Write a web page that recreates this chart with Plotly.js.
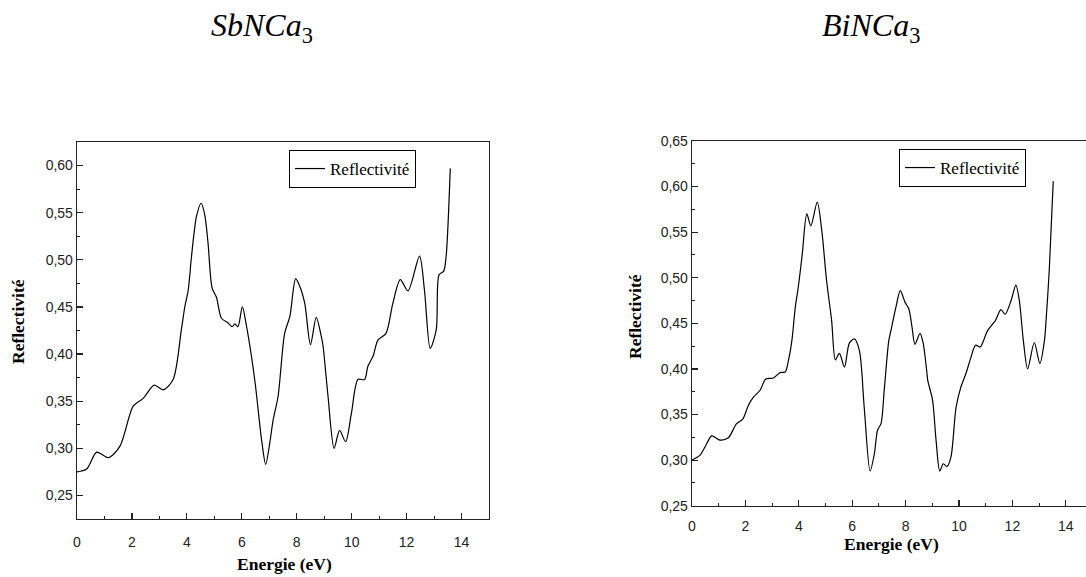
<!DOCTYPE html>
<html>
<head>
<meta charset="utf-8">
<script src="https://cdn.plot.ly/plotly-3.0.1.min.js"></script>
<style>html,body{margin:0;padding:0;background:#fff;}#chart{width:1086px;height:577px;}</style>
</head>
<body>
<div id="chart"></div>
<script>
// SbNCa3 reflectivity
const sbEnergy = [0, 0.35, 0.72, 1.14, 1.56, 2.05, 2.41, 2.81, 3.14, 3.5, 3.8, 3.93, 4.05, 4.17, 4.35, 4.52, 4.65, 4.77, 4.92, 5.08, 5.26, 5.5, 5.65, 5.75, 5.86, 6.02, 6.17, 6.47, 6.72, 6.87, 7.02, 7.14, 7.32, 7.56, 7.75, 7.96, 8.11, 8.29, 8.5, 8.71, 8.9, 8.96, 9.14, 9.36, 9.56, 9.78, 9.99, 10.23, 10.47, 10.59, 10.78, 10.96, 11.25, 11.5, 11.77, 12.05, 12.47, 12.65, 12.86, 13.08, 13.18, 13.35, 13.44, 13.59];
const sbRefl = [0.275, 0.278, 0.296, 0.290, 0.302, 0.345, 0.353, 0.367, 0.362, 0.373, 0.426, 0.451, 0.468, 0.504, 0.546, 0.560, 0.548, 0.518, 0.470, 0.460, 0.438, 0.433, 0.429, 0.432, 0.429, 0.450, 0.430, 0.373, 0.309, 0.283, 0.306, 0.330, 0.355, 0.422, 0.440, 0.480, 0.472, 0.454, 0.410, 0.439, 0.418, 0.408, 0.355, 0.300, 0.319, 0.307, 0.337, 0.373, 0.373, 0.387, 0.398, 0.415, 0.422, 0.454, 0.479, 0.467, 0.504, 0.468, 0.406, 0.426, 0.484, 0.488, 0.504, 0.597];

// BiNCa3 reflectivity
const biEnergy = [0, 0.30, 0.55, 0.74, 1.05, 1.36, 1.67, 1.9, 2.11, 2.3, 2.55, 2.76, 3.05, 3.3, 3.49, 3.61, 3.74, 3.87, 3.98, 4.13, 4.3, 4.45, 4.69, 4.86, 5.04, 5.23, 5.37, 5.52, 5.71, 5.89, 6.08, 6.27, 6.45, 6.67, 6.83, 6.95, 7.08, 7.2, 7.37, 7.45, 7.64, 7.8, 7.98, 8.12, 8.24, 8.35, 8.54, 8.66, 8.79, 8.83, 9.01, 9.14, 9.28, 9.41, 9.55, 9.7, 9.89, 10.07, 10.26, 10.45, 10.62, 10.79, 11.07, 11.36, 11.57, 11.73, 11.95, 12.13, 12.26, 12.41, 12.57, 12.82, 13.03, 13.2, 13.26, 13.38, 13.53];
const biRefl = [0.300, 0.3055, 0.318, 0.3266, 0.322, 0.3245, 0.340, 0.345, 0.360, 0.369, 0.3766, 0.389, 0.390, 0.396, 0.3966, 0.409, 0.431, 0.468, 0.4896, 0.526, 0.570, 0.557, 0.583, 0.552, 0.497, 0.453, 0.410, 0.417, 0.402, 0.428, 0.433, 0.420, 0.358, 0.288, 0.307, 0.333, 0.340, 0.377, 0.431, 0.442, 0.468, 0.486, 0.473, 0.466, 0.446, 0.427, 0.439, 0.428, 0.398, 0.3875, 0.3656, 0.322, 0.288, 0.296, 0.293, 0.3036, 0.358, 0.380, 0.395, 0.413, 0.426, 0.424, 0.442, 0.453, 0.465, 0.460, 0.475, 0.492, 0.475, 0.431, 0.400, 0.429, 0.406, 0.431, 0.453, 0.508, 0.606];

const seriesName = "Reflectivité";
const xTitle = "Energie (eV)";
const yTitle = "Reflectivité";
const titleLeft = "<i>SbNCa</i><sub>3</sub>";
const titleRight = "<i>BiNCa</i><sub>3</sub>";

const W = 1086, H = 577;
const tickFont = {family: "Liberation Sans, Arial, sans-serif", size: 14, color: "#222"};
const axisTitleFont = {family: "Liberation Serif, Times New Roman, serif", size: 17.5, color: "#000"};
const titleFont = {family: "Liberation Serif, Times New Roman, serif", size: 32, color: "#000"};

function xax(domain, range, anchor, standoff) {
  return {domain: domain, range: range, anchor: anchor, showline: true, mirror: true, linecolor: "#222", linewidth: 1.3,
    ticks: "inside", ticklen: 6, tickwidth: 1.2, tickcolor: "#222", tick0: 0, dtick: 2, ticklabelstandoff: standoff,
    minor: {ticks: "inside", ticklen: 3, tickwidth: 1, tickcolor: "#222", dtick: 1},
    showgrid: false, zeroline: false, tickfont: tickFont, fixedrange: true};
}
function yax(domain, range, mirror, anchor) {
  return {domain: domain, range: range, anchor: anchor, showline: true, mirror: mirror, linecolor: "#222", linewidth: 1.3,
    ticks: "inside", ticklen: 6, tickwidth: 1.2, tickcolor: "#222", tick0: 0.25, dtick: 0.05, tickformat: ".2f",
    minor: {ticks: "inside", ticklen: 3, tickwidth: 1, tickcolor: "#222", dtick: 0.025},
    showgrid: false, zeroline: false, tickfont: tickFont, fixedrange: true};
}

const traces = [
  {x: sbEnergy, y: sbRefl, type: "scatter", mode: "lines", name: seriesName,
   line: {color: "#000", width: 1.2, shape: "spline", smoothing: 0.8}, xaxis: "x", yaxis: "y", legend: "legend"},
  {x: biEnergy, y: biRefl, type: "scatter", mode: "lines", name: seriesName,
   line: {color: "#000", width: 1.2, shape: "spline", smoothing: 0.8}, xaxis: "x2", yaxis: "y2", legend: "legend2"}
];

const legendFont = {family: "Liberation Serif, Times New Roman, serif", size: 17, color: "#000"};
const layout = {
  width: W, height: H, autosize: false,
  margin: {l: 0, r: 0, t: 0, b: 0},
  paper_bgcolor: "#fff", plot_bgcolor: "#fff",
  separators: ", ",
  xaxis: xax([77/W, 489/W], [0, 15], "y", 10),
  yaxis: yax([58/H, 435/H], [0.225, 0.625], true, "x"),
  xaxis2: xax([692/W, 1], [0, (W-692)/26.7], "y2", 7),
  yaxis2: yax([71.3/H, 436/H], [0.25, 0.65], false, "x2"),
  showlegend: true,
  legend: {x: 289/W, y: 1 - 150/H, xanchor: "left", yanchor: "top", bordercolor: "#000", borderwidth: 1,
    bgcolor: "#fff", font: legendFont, itemwidth: 30},
  legend2: {x: 899/W, y: 1 - 149/H, xanchor: "left", yanchor: "top", bordercolor: "#000", borderwidth: 1,
    bgcolor: "#fff", font: legendFont, itemwidth: 30},
  annotations: [
    {text: titleLeft, x: 262/W, y: 1 - 27/H, xanchor: "center", yanchor: "middle", xref: "paper", yref: "paper", showarrow: false, font: titleFont},
    {text: titleRight, x: 871/W, y: 1 - 27/H, xanchor: "center", yanchor: "middle", xref: "paper", yref: "paper", showarrow: false, font: titleFont},
    {text: "<b>" + xTitle + "</b>", x: 284/W, y: 1 - 564/H, xanchor: "center", yanchor: "middle", xref: "paper", yref: "paper", showarrow: false, font: axisTitleFont},
    {text: "<b>" + yTitle + "</b>", x: 18/W, y: 1 - 322/H, xanchor: "center", yanchor: "middle", xref: "paper", yref: "paper", showarrow: false, textangle: -90, font: axisTitleFont},
    {text: "<b>" + xTitle + "</b>", x: 891/W, y: 1 - 544/H, xanchor: "center", yanchor: "middle", xref: "paper", yref: "paper", showarrow: false, font: axisTitleFont},
    {text: "<b>" + yTitle + "</b>", x: 635/W, y: 1 - 317/H, xanchor: "center", yanchor: "middle", xref: "paper", yref: "paper", showarrow: false, textangle: -90, font: axisTitleFont}
  ]
};

Plotly.newPlot("chart", traces, layout, {displayModeBar: false, staticPlot: true});
</script>
</body>
</html>
